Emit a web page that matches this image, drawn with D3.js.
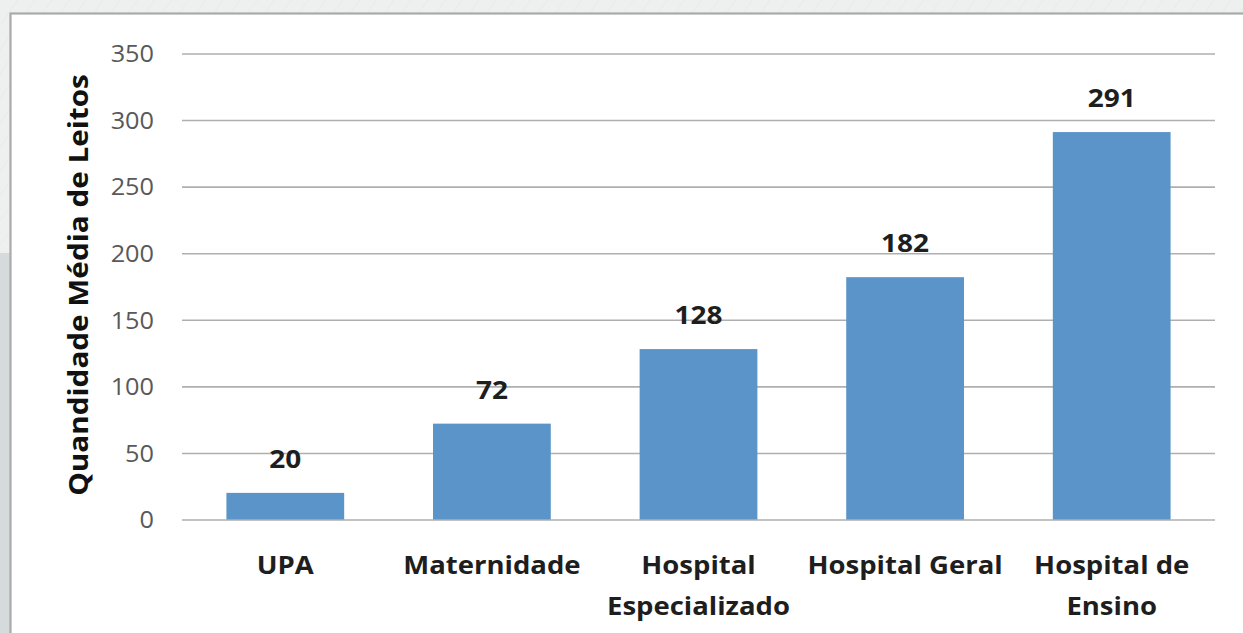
<!DOCTYPE html>
<html>
<head>
<meta charset="utf-8">
<script src="https://cdn.jsdelivr.net/npm/d3@7"></script>
<style>
  html, body { margin: 0; padding: 0; background: #e9ebeb; }
  svg { display: block; }
</style>
</head>
<body>
<svg id="chart" width="1243" height="633"></svg>
<script>
// Average number of beds per type of health facility
const categories = [["UPA"], ["Maternidade"], ["Hospital", "Especializado"], ["Hospital Geral"], ["Hospital de", "Ensino"]];
const categoryKeys = ["UPA", "Maternidade", "Hospital Especializado", "Hospital Geral", "Hospital de Ensino"];
const values = [20, 72, 128, 182, 291];
const yTicks = [0, 50, 100, 150, 200, 250, 300, 350];
const yTitle = "Quandidade Média de Leitos";

const W = 1243, H = 633;
const plot = { left: 182, right: 1215, top: 53.5, bottom: 519.5 };

const svg = d3.select("#chart");

// page backdrop with faint hatching
const defs = svg.append("defs");
const pat = defs.append("pattern")
  .attr("id", "hatch").attr("width", 14).attr("height", 14)
  .attr("patternUnits", "userSpaceOnUse").attr("patternTransform", "rotate(35)");
pat.append("line").attr("x1", 0).attr("y1", 0).attr("x2", 0).attr("y2", 14)
  .attr("stroke", "#dcdfdf").attr("stroke-width", 1);

svg.append("rect").attr("x", 0).attr("y", 0).attr("width", W).attr("height", H).attr("fill", "#eef0f0");
svg.append("rect").attr("x", 0).attr("y", 253).attr("width", 12).attr("height", H - 253).attr("fill", "#d5dadc");
svg.append("rect").attr("x", 0).attr("y", 0).attr("width", W).attr("height", H).attr("fill", "url(#hatch)").attr("opacity", 0.6);

// white chart panel
svg.append("rect")
  .attr("x", 10.5).attr("y", 13.5).attr("width", W + 20).attr("height", H + 20)
  .attr("fill", "#ffffff").attr("stroke", "#a9abab").attr("stroke-width", 2.2);

const x = d3.scaleBand()
  .domain(categoryKeys)
  .range([plot.left, plot.right])
  .paddingInner(0.43)
  .paddingOuter(0.215);

const y = d3.scaleLinear()
  .domain([0, 350])
  .range([plot.bottom, plot.top]);

// horizontal gridlines with value labels
const yAxis = d3.axisLeft(y)
  .tickValues(yTicks)
  .tickSize(-(plot.right - plot.left))
  .tickPadding(0)
  .tickFormat(d3.format("d"));

const gy = svg.append("g")
  .attr("transform", `translate(${plot.left},0)`)
  .call(yAxis);
gy.select(".domain").remove();
gy.selectAll(".tick line")
  .attr("stroke", "#afafaf")
  .attr("stroke-width", 1.6);
gy.selectAll(".tick text")
  .attr("x", 0)
  .attr("dy", "0.36em")
  .attr("transform", "translate(-28,0) scale(1.1,1)")
  .attr("text-anchor", "end")
  .attr("fill", "#595959")
  .style("font-family", "'Open Sans', sans-serif")
  .style("font-size", "23px");

// bars
svg.append("g").selectAll("rect")
  .data(values)
  .join("rect")
  .attr("x", (d, i) => x(categoryKeys[i]))
  .attr("width", x.bandwidth())
  .attr("y", d => y(d))
  .attr("height", d => y(0) - y(d))
  .attr("fill", "#5b94c9");

// value labels above bars
svg.append("g").selectAll("text")
  .data(values)
  .join("text")
  .attr("transform", (d, i) => `translate(${x(categoryKeys[i]) + x.bandwidth() / 2},${y(d) - 34}) scale(1.12,1)`)
  .attr("dy", "0.36em")
  .attr("text-anchor", "middle")
  .attr("fill", "#1e1e1e")
  .style("font-family", "'Open Sans', sans-serif")
  .style("font-weight", "700")
  .style("font-size", "25px")
  .text(d => d);

// category labels (one or two lines)
const catG = svg.append("g").selectAll("text")
  .data(categories)
  .join("text")
  .attr("transform", (d, i) => `translate(${x(categoryKeys[i]) + x.bandwidth() / 2},565) scale(1.1,1)`)
  .attr("text-anchor", "middle")
  .attr("fill", "#1e1e1e")
  .style("font-family", "'Open Sans', sans-serif")
  .style("font-weight", "700")
  .style("font-size", "25px");
catG.selectAll("tspan")
  .data(d => d)
  .join("tspan")
  .attr("x", 0)
  .attr("y", (d, j) => j * 41)
  .attr("dy", "0.36em")
  .text(d => d);

// vertical axis title
svg.append("text")
  .attr("transform", "translate(78,285) rotate(-90) scale(1.1,1)")
  .attr("dy", "0.36em")
  .attr("text-anchor", "middle")
  .attr("fill", "#111")
  .style("font-family", "'Open Sans', sans-serif")
  .style("font-weight", "700")
  .style("font-size", "27px")
  .text(yTitle);
</script>
</body>
</html>
